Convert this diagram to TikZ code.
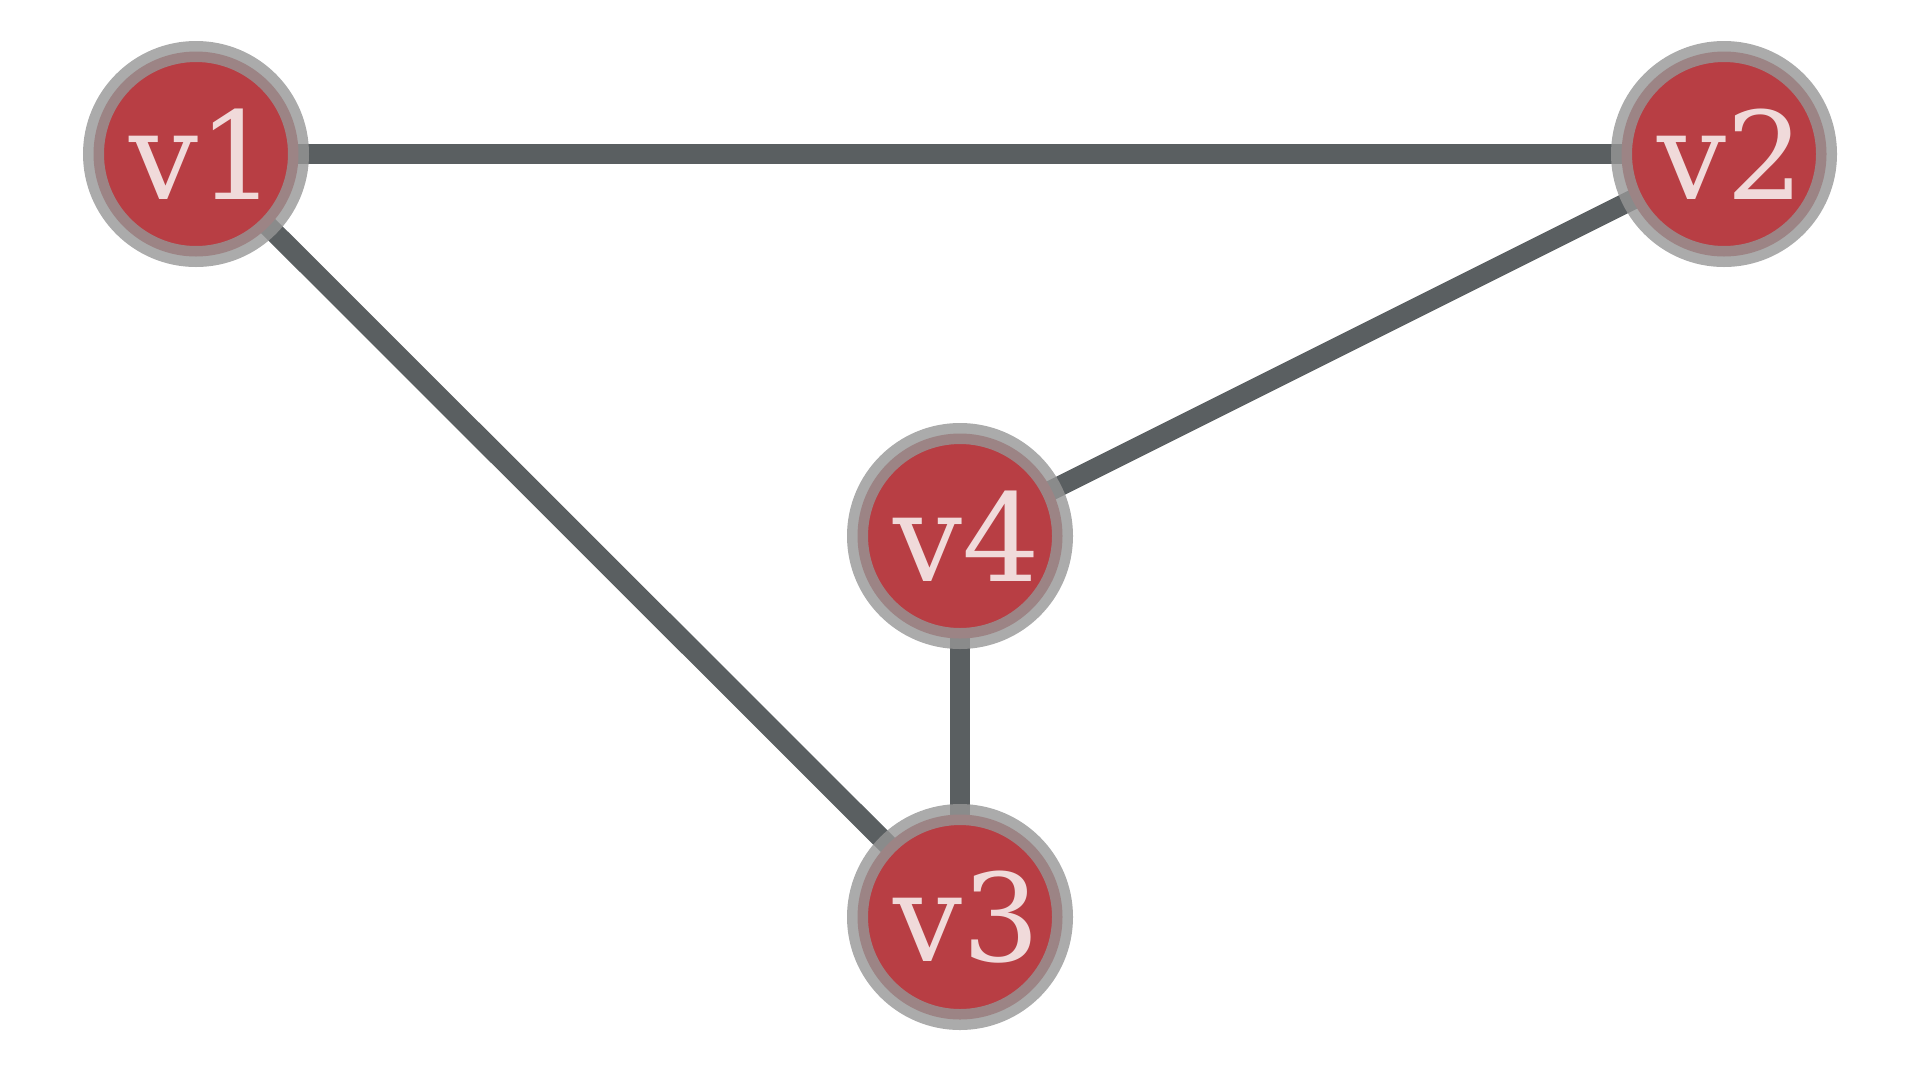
\documentclass[tikz,border=0pt]{standalone}
\usepackage{fontspec}
\newfontfamily\nodefont{DejaVu Serif}
\usetikzlibrary{backgrounds}
\definecolor{nodered}{RGB}{184,62,68}
\definecolor{edgegray}{RGB}{90,95,97}
\definecolor{ringgray}{RGB}{150,150,150}
\definecolor{textpink}{RGB}{240,218,218}
\newcommand{\vlabel}[1]{\kern7pt #1}
\tikzset{
  vertex/.style={circle, minimum size=102.5pt, inner sep=0pt, fill=nodered,
    draw=ringgray, draw opacity=0.8, line width=10.5pt,
    text=textpink, font=\nodefont\fontsize{61}{61}\selectfont},
  edge/.style={draw=edgegray, line width=10pt}
}
\begin{document}
\begin{tikzpicture}[x=0.5pt,y=-0.5pt]
\useasboundingbox (0,0) rectangle (1920,1072);
\node[vertex] (v1) at (196,154) {\vlabel{v1}};
\node[vertex] (v2) at (1724,154) {\vlabel{v2}};
\node[vertex] (v4) at (960,536) {\vlabel{v4}};
\node[vertex] (v3) at (960,917) {\vlabel{v3}};
\begin{pgfonlayer}{background}
\draw[edge] (v1.center) -- (v2.center);
\draw[edge] (v1.center) -- (v3.center);
\draw[edge] (v2.center) -- (v4.center);
\draw[edge] (v4.center) -- (v3.center);
\end{pgfonlayer}
\end{tikzpicture}
\end{document}
